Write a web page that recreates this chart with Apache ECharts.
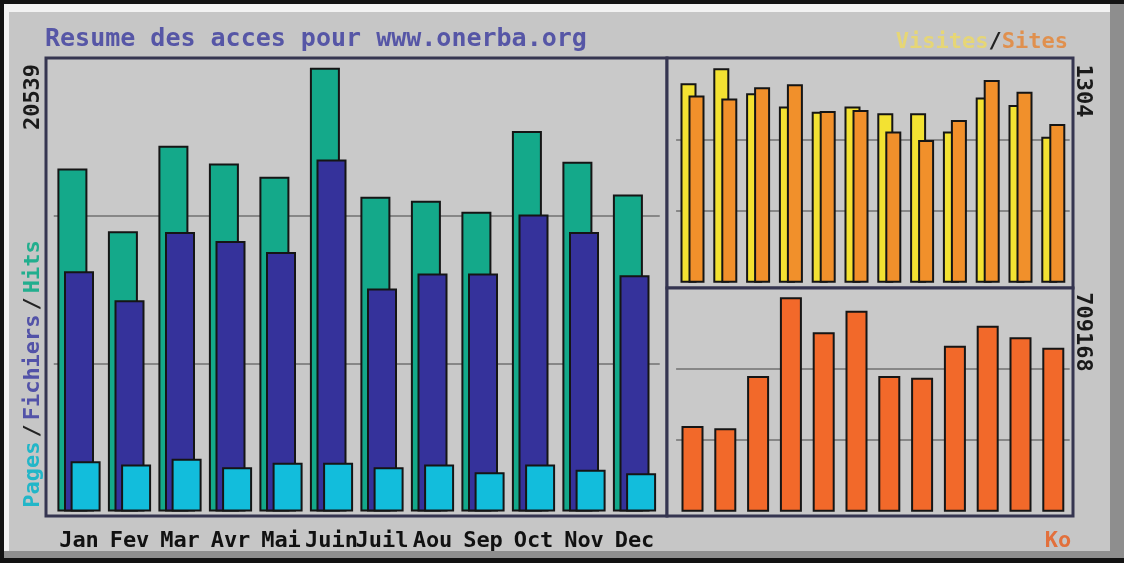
<!DOCTYPE html>
<html>
<head>
<meta charset="utf-8">
<script src="https://cdn.jsdelivr.net/npm/echarts@6/dist/echarts.min.js"></script>
<style>html,body{margin:0;padding:0;background:#c6c6c6;}#c{width:1124px;height:563px;}</style>
</head>
<body>
<div id="c"></div>
<script>
const months = ['Jan','Fev','Mar','Avr','Mai','Juin','Juil','Aou','Sep','Oct','Nov','Dec'];
const hits    = [15877, 12972, 16925, 16109, 15488, 20539, 14562, 14376, 13867, 17605, 16183, 14673];
const files   = [11119, 9776, 12940, 12523, 12014, 16294, 10318, 11013, 11013, 13746, 12940, 10934];
const pages   = [2330, 2178, 2442, 2052, 2256, 2256, 2052, 2178, 1821, 2178, 1932, 1774];
const visites = [1213, 1304, 1152, 1071, 1040, 1071, 1030, 1030, 919, 1126, 1081, 888];
const sites   = [1138, 1121, 1188, 1207, 1044, 1050, 919, 868, 990, 1233, 1162, 965];
const ko      = [283445, 275725, 448880, 709168, 593360, 665049, 448880, 443366, 549240, 615418, 576817, 542627];
const axisMaxLabels = ['20539', '1304', '709168'];
const axisMax = [20539, 1304, 709168];

const FONT = '"DejaVu Sans Mono", monospace';
const chart = echarts.init(document.getElementById('c'));
const border = {borderColor: '#151515', borderWidth: 2};
const valAxis = (i, max) => ({
  type: 'value', gridIndex: i, min: 0, max: max, interval: max / 3,
  axisLabel: {show: false}, axisLine: {show: false}, axisTick: {show: false},
  splitLine: {show: true, showMinLine: false, showMaxLine: false, lineStyle: {color: '#878787', width: 2}}
});
const catAxis = (i, showLabel) => ({
  type: 'category', gridIndex: i, data: months,
  axisLine: {show: false}, axisTick: {show: false},
  axisLabel: {show: showLabel, interval: 0, margin: 19, color: '#111', fontFamily: FONT, fontWeight: 'bold', fontSize: 22}
});
const txt = (o) => Object.assign({type: 'text', silent: true, z: 10}, o);

chart.setOption({
  animation: false,
  backgroundColor: '#c6c6c6',
  grid: [
    {left: 53.75, right: 464.25, top: 67.7, bottom: 51.5},
    {left: 676.1, right: 54.3, top: 68.3, bottom: 280.3},
    {left: 676.1, right: 54.3, top: 297.3, bottom: 51.3}
  ],
  xAxis: [catAxis(0, true), catAxis(1, false), catAxis(2, false)],
  yAxis: [valAxis(0, axisMax[0]), valAxis(1, axisMax[1]), valAxis(2, axisMax[2])],
  series: [
    {type: 'bar', name: 'Hits', data: hits, xAxisIndex: 0, yAxisIndex: 0, barWidth: 30, barGap: '-78%', itemStyle: Object.assign({color: '#14a98a'}, border)},
    {type: 'bar', name: 'Fichiers', data: files, xAxisIndex: 0, yAxisIndex: 0, barWidth: 30, barGap: '-78%', itemStyle: Object.assign({color: '#35329b'}, border)},
    {type: 'bar', name: 'Pages', data: pages, xAxisIndex: 0, yAxisIndex: 0, barWidth: 30, barGap: '-78%', itemStyle: Object.assign({color: '#12bddc'}, border)},
    {type: 'bar', name: 'Visites', data: visites, xAxisIndex: 1, yAxisIndex: 1, barWidth: 16, barGap: '-50%', itemStyle: Object.assign({color: '#f3e232'}, border)},
    {type: 'bar', name: 'Sites', data: sites, xAxisIndex: 1, yAxisIndex: 1, barWidth: 16, barGap: '-50%', itemStyle: Object.assign({color: '#f1902b'}, border)},
    {type: 'bar', name: 'Ko', data: ko, xAxisIndex: 2, yAxisIndex: 2, barWidth: 22, itemStyle: Object.assign({color: '#f2692a'}, border)}
  ],
  graphic: [
    {type: 'rect', silent: true, z: -20, shape: {x: 0, y: 0, width: 1124, height: 563}, style: {fill: '#121212'}},
    {type: 'rect', silent: true, z: -19, shape: {x: 4, y: 4, width: 1120, height: 554}, style: {fill: '#8e8e8e'}},
    {type: 'rect', silent: true, z: -18, shape: {x: 4, y: 4, width: 1106, height: 547}, style: {fill: '#f2f2f2'}},
    {type: 'rect', silent: true, z: -17, shape: {x: 9, y: 12, width: 1101, height: 539}, style: {fill: '#c6c6c6'}},
    {type: 'rect', silent: true, z: -16, shape: {x: 46, y: 58, width: 621, height: 458}, style: {fill: '#c9c9c9', stroke: '#353550', lineWidth: 3}},
    {type: 'rect', silent: true, z: -16, shape: {x: 667, y: 58, width: 406, height: 230}, style: {fill: '#c9c9c9', stroke: '#353550', lineWidth: 3}},
    {type: 'rect', silent: true, z: -16, shape: {x: 667, y: 288, width: 406, height: 228}, style: {fill: '#c9c9c9', stroke: '#353550', lineWidth: 3}},
    txt({x: 45, y: 39, style: {text: 'Resume des acces pour www.onerba.org', font: 'bold 25px ' + FONT, fill: '#5656a6', textAlign: 'left', textVerticalAlign: 'middle'}}),
    txt({x: 1068, y: 42, style: {text: '{v|Visites}{s|/}{t|Sites}', font: 'bold 22px ' + FONT, textAlign: 'right', textVerticalAlign: 'middle',
      rich: {v: {fill: '#e6d676', font: 'bold 22px ' + FONT}, s: {fill: '#222', font: 'bold 22px ' + FONT}, t: {fill: '#e0904e', font: 'bold 22px ' + FONT}}}}),
    txt({x: 1058, y: 541, style: {text: 'Ko', font: 'bold 22px ' + FONT, fill: '#e2703c', textAlign: 'center', textVerticalAlign: 'middle'}}),
    txt({x: 33, y: 97, rotation: Math.PI / 2, style: {text: axisMaxLabels[0], font: 'bold 22px ' + FONT, fill: '#1a1a1a', textAlign: 'center', textVerticalAlign: 'middle'}}),
    txt({x: 33, y: 374, rotation: Math.PI / 2, style: {text: '{p|Pages}{s|/}{f|Fichiers}{s|/}{h|Hits}', font: 'bold 22px ' + FONT, textAlign: 'center', textVerticalAlign: 'middle',
      rich: {p: {fill: '#22b6c8', font: 'bold 22px ' + FONT}, s: {fill: '#222', font: 'bold 22px ' + FONT, padding: [0, 4]}, f: {fill: '#5252a8', font: 'bold 22px ' + FONT}, h: {fill: '#22ae8e', font: 'bold 22px ' + FONT}}}}),
    txt({x: 1083, y: 91, rotation: -Math.PI / 2, style: {text: axisMaxLabels[1], font: 'bold 22px ' + FONT, fill: '#1a1a1a', textAlign: 'center', textVerticalAlign: 'middle'}}),
    txt({x: 1083, y: 332, rotation: -Math.PI / 2, style: {text: axisMaxLabels[2], font: 'bold 22px ' + FONT, fill: '#1a1a1a', textAlign: 'center', textVerticalAlign: 'middle'}})
  ]
});
</script>
</body>
</html>
